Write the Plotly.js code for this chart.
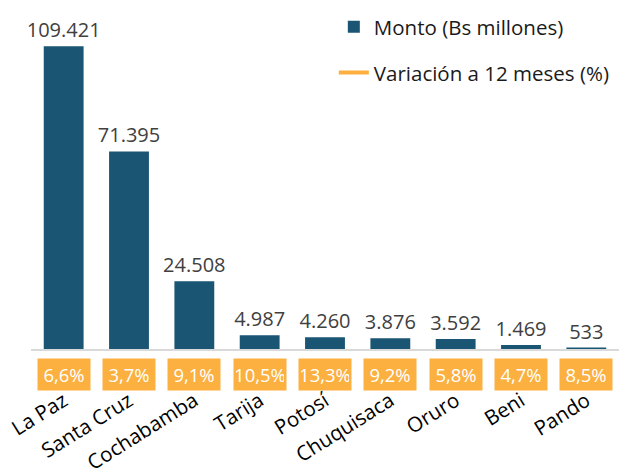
<!DOCTYPE html>
<html><head><meta charset="utf-8">
<script src="https://cdn.plot.ly/plotly-3.0.1.min.js"></script>
<style>html,body{margin:0;padding:0;background:#fff}</style>
</head><body>
<div id="chart" style="width:619px;height:470px"></div>
<script>
var departamentos = ["La Paz","Santa Cruz","Cochabamba","Tarija","Potosí","Chuquisaca","Oruro","Beni","Pando"];
var monto = [109421, 71395, 24508, 4987, 4260, 3876, 3592, 1469, 533];
var variacion = [6.6, 3.7, 9.1, 10.5, 13.3, 9.2, 5.8, 4.7, 8.5];

var FONT = "Open Sans, Noto Sans, sans-serif";
var BLUE = "#1A5574";
var ORANGE = "#FBB040";

function fmtMiles(v){ return String(v).replace(/\B(?=(\d{3})+(?!\d))/g, "."); }
function fmtPct(v){ return v.toFixed(1).replace(".", ",") + "%"; }

var traces = [
  {
    type: "bar", name: "Monto (Bs millones)", x: departamentos, y: monto,
    marker: {color: BLUE}, text: monto.map(fmtMiles), textposition: "outside",
    constraintext: "none",
    textfont: {family: FONT, size: 20, color: "#404040"}, cliponaxis: false,
    legendgroup: "a", hoverinfo: "x+y"
  },
  {
    type: "scatter", mode: "lines", name: "Variación a 12 meses (%)",
    x: departamentos, y: departamentos.map(function(){return null;}),
    line: {color: ORANGE, width: 4}, legendgroup: "b"
  }
];

var annotations = departamentos.map(function(d, i){
  return {
    x: d, xref: "x", y: -0.078, yref: "paper", yanchor: "middle",
    text: fmtPct(variacion[i]), showarrow: false,
    bgcolor: ORANGE, width: 48, height: 27, borderpad: 2,
    font: {family: FONT, size: 18.5, color: "#ffffff"}
  };
});

var layout = {
  width: 619, height: 470,
  margin: {l: 31, r: 0, t: 17, b: 121},
  paper_bgcolor: "#fff", plot_bgcolor: "#fff",
  font: {family: FONT},
  bargap: 0.39,
  showlegend: true,
  legend: {
    x: 0.515, y: 1.03, xanchor: "left", yanchor: "top",
    font: {family: FONT, size: 20.5, color: "#1a1a1a"},
    traceorder: "grouped", tracegroupgap: 16, bgcolor: "rgba(0,0,0,0)"
  },
  xaxis: {
    type: "category", showline: true, linecolor: "#D9D9D9", linewidth: 2,
    ticks: "outside", ticklen: 30, tickcolor: "rgba(0,0,0,0)",
    tickangle: -32, tickfont: {family: FONT, size: 20.5, color: "#000"},
    showgrid: false, zeroline: false
  },
  yaxis: {
    range: [0, 120000], visible: false, showgrid: false, zeroline: false
  },
  annotations: annotations
};

Plotly.newPlot("chart", traces, layout, {displayModeBar: false, staticPlot: true});
</script>
</body></html>
